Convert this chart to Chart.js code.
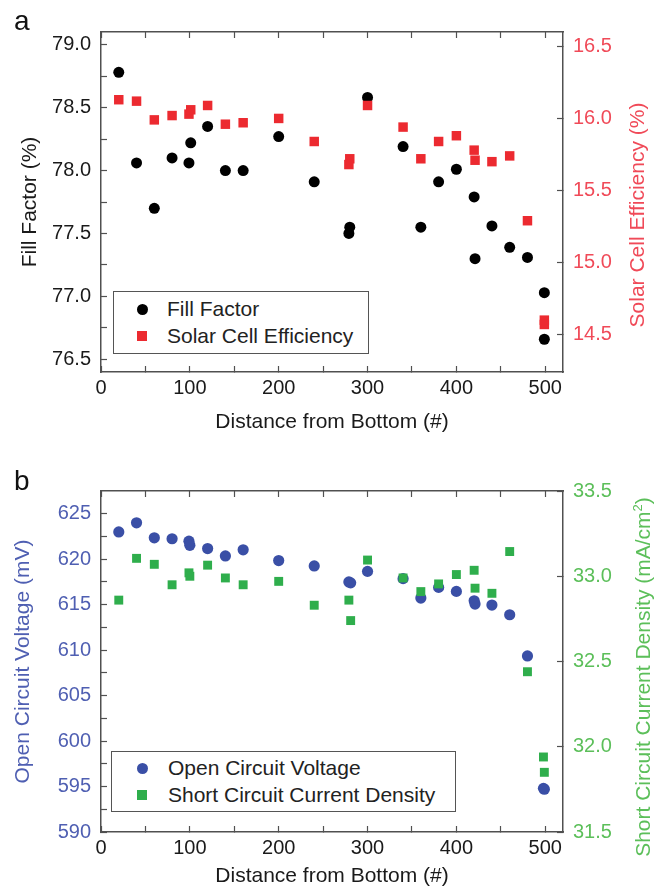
<!DOCTYPE html>
<html>
<head>
<meta charset="utf-8">
<title>Fill factor, efficiency, Voc and Jsc vs distance</title>
<script src="https://cdn.jsdelivr.net/npm/chart.js@4.4.1/dist/chart.umd.min.js"></script>
<style>
  body { margin: 0; background: #fff; font-family: 'Liberation Sans', Arial, sans-serif; }
  #page { position: relative; width: 660px; height: 889px; overflow: hidden; }
  .panel { position: absolute; left: 0; }
  .tag { position: absolute; left: 14px; font-size: 28px; line-height: 28px; color: #111; }
  .side-title { position: absolute; white-space: nowrap; font-size: 21px; line-height: 24px;
                transform: translate(-50%, -50%) rotate(-90deg); }
  .side-title sup { font-size: 13px; }
  .legend { position: absolute; box-sizing: border-box; border: 1.5px solid #555; background: #fff;
            font-size: 21px; color: #222; }
  .legend .item { position: relative; height: 26.7px; line-height: 26.7px; white-space: nowrap; }
  .legend .mark { position: absolute; top: 50%; }
  .legend .mark.circle { width: 11px; height: 11px; margin-top: -5.5px; border-radius: 50%; }
  .legend .mark.rect { width: 9.5px; height: 9.5px; margin-top: -4.75px; }
</style>
</head>
<body>
<div id="page">
  <canvas id="chartA" class="panel" width="660" height="445" style="top:0"></canvas>
  <canvas id="chartB" class="panel" width="660" height="444" style="top:445px"></canvas>
  <div class="tag" style="top:7px">a</div>
  <div class="tag" style="top:467px">b</div>
  <div class="side-title" style="left:637px; top:215px; color:#f04a58">Solar Cell Efficiency (%)</div>
  <div class="side-title" style="left:640px; top:677px; color:#5cbf5a">Short Circuit Current Density (mA/cm<sup>2</sup>)</div>
  <div id="legendA" class="legend" style="left:113px; top:291px; width:256px; height:63px; padding-top:4px"></div>
  <div id="legendB" class="legend" style="left:111px; top:751px; width:345px; height:61px; padding-top:3px"></div>
</div>
<script>
// panel a
const distanceA = [20, 40, 60, 80, 99, 101, 120, 140, 160, 200, 240, 280, 279, 300, 340, 360, 380, 400, 420, 421, 440, 460, 480, 499, 499];
const fillFactor = [78.78, 78.06, 77.70, 78.10, 78.06, 78.22, 78.35, 78.00, 78.00, 78.27, 77.91, 77.55, 77.50, 78.58,
                    78.19, 77.55, 77.91, 78.01, 77.79, 77.30, 77.56, 77.39, 77.31, 77.03, 76.66];
const efficiency = [16.13, 16.12, 15.99, 16.02, 16.03, 16.06, 16.09, 15.96, 15.97, 16.00, 15.84, 15.72, 15.68, 16.09,
                    15.94, 15.72, 15.84, 15.88, 15.78, 15.71, 15.70, 15.74, 15.29, 14.60, 14.57];

// panel b
const distanceB = [20, 40, 60, 80, 99, 100, 120, 140, 160, 200, 240, 279, 281, 300, 340, 360, 380, 400, 420, 421, 440, 460, 480, 498, 499];
const voltage = [623.0, 624.0, 622.35, 622.25, 621.98, 621.53, 621.17, 620.36, 621.03, 619.85, 619.26, 617.5, 617.4, 618.66,
                 617.86, 615.73, 616.9, 616.46, 615.43, 615.07, 614.96, 613.89, 609.36, 594.8, 594.7];
const currentDensity = [32.86, 33.105, 33.07, 32.95, 33.02, 33.0, 33.065, 32.99, 32.95, 32.97, 32.83, 32.86, 32.74, 33.095,
                        32.99, 32.91, 32.955, 33.01, 33.035, 32.93, 32.90, 33.145, 32.44, 31.94, 31.85];

// tick labels
const distanceTicks = [0, 100, 200, 300, 400, 500];
const fillFactorTicks = [76.5, 77.0, 77.5, 78.0, 78.5, 79.0];
const efficiencyTicks = [14.5, 15.0, 15.5, 16.0, 16.5];
const voltageTicks = [590, 595, 600, 605, 610, 615, 620, 625];
const currentTicks = [31.5, 32.0, 32.5, 33.0, 33.5];

const AXIS_GRAY = '#505050';
Chart.defaults.font.family = "'Liberation Sans', Arial, sans-serif";
Chart.defaults.font.size = 20;

function withMinor(major) {
  const out = [];
  major.forEach((v, i) => {
    out.push(v);
    if (i < major.length - 1) out.push((v + major[i + 1]) / 2);
  });
  return out;
}

function frameAxis({ position, size, min, max, values, major, digits, color, pad }) {
  const vertical = position === 'left' || position === 'right';
  return {
    type: 'linear',
    position,
    min,
    max,
    afterBuildTicks: s => { s.ticks = values.map(v => ({ value: v })); },
    afterFit: s => { if (vertical) s.width = size; else s.height = size; },
    ticks: {
      autoSkip: false,
      maxRotation: 0,
      padding: pad,
      color: color,
      font: { size: 20 },
      callback: v => (major && major.includes(v)) ? v.toFixed(digits) : '',
    },
    grid: { drawOnChartArea: false, tickLength: -6, tickColor: AXIS_GRAY, tickWidth: 1.2 },
    border: { color: AXIS_GRAY, width: 1.5 },
  };
}

function points(xs, ys) {
  return xs.map((x, i) => ({ x, y: ys[i] }));
}

function renderLegend(chart, el, markLeft, textLeft) {
  el.innerHTML = chart.data.datasets.map(ds => `
    <div class="item" style="padding-left:${textLeft}px">
      <span class="mark ${ds.pointStyle}" style="left:${markLeft}px; background:${ds.backgroundColor}"></span>${ds.label}
    </div>`).join('');
}

function createChartA() {
  const ctx = document.getElementById('chartA').getContext('2d');
  return new Chart(ctx, {
    type: 'scatter',
    data: {
      datasets: [{
        label: 'Fill Factor',
        data: points(distanceA, fillFactor),
        yAxisID: 'y',
        pointStyle: 'circle',
        pointRadius: 5.5,
        backgroundColor: '#000000',
        borderWidth: 0,
        order: 1,
      }, {
        label: 'Solar Cell Efficiency',
        data: points(distanceA, efficiency),
        yAxisID: 'y2',
        pointStyle: 'rect',
        pointRadius: 6.7,
        backgroundColor: '#ec2a30',
        borderWidth: 0,
        order: 0,
      }]
    },
    options: {
      responsive: false,
      animation: false,
      layout: { padding: 0 },
      plugins: { legend: { display: false }, tooltip: { enabled: false } },
      scales: {
        x: {
          ...frameAxis({ position: 'bottom', size: 73, min: 0, max: 520, values: withMinor(distanceTicks),
                         major: distanceTicks, digits: 0, color: '#1a1a1a', pad: 10 }),
          title: { display: true, text: 'Distance from Bottom (#)', color: '#1a1a1a', font: { size: 21 },
                   padding: { top: 0, bottom: 10 } },
        },
        x2: frameAxis({ position: 'top', size: 32, min: 0, max: 520, values: withMinor(distanceTicks), pad: 0 }),
        y: {
          ...frameAxis({ position: 'left', size: 101, min: 76.4, max: 79.1, values: withMinor(fillFactorTicks),
                         major: fillFactorTicks, digits: 1, color: '#1a1a1a', pad: 16 }),
          title: { display: true, text: 'Fill Factor (%)', color: '#1a1a1a', font: { size: 21 },
                   padding: { top: 18, bottom: 0 } },
        },
        y2: frameAxis({ position: 'right', size: 97, min: 14.24, max: 16.6, values: efficiencyTicks,
                        major: efficiencyTicks, digits: 1, color: '#f04a58', pad: 16 }),
      }
    }
  });
}

function createChartB() {
  const ctx = document.getElementById('chartB').getContext('2d');
  return new Chart(ctx, {
    type: 'scatter',
    data: {
      datasets: [{
        label: 'Open Circuit Voltage',
        data: points(distanceB, voltage),
        yAxisID: 'y',
        pointStyle: 'circle',
        pointRadius: 5.6,
        backgroundColor: '#3a4fa6',
        borderWidth: 0,
        order: 1,
      }, {
        label: 'Short Circuit Current Density',
        data: points(distanceB, currentDensity),
        yAxisID: 'y2',
        pointStyle: 'rect',
        pointRadius: 6.3,
        backgroundColor: '#2fae4c',
        borderWidth: 0,
        order: 0,
      }]
    },
    options: {
      responsive: false,
      animation: false,
      layout: { padding: 0 },
      plugins: { legend: { display: false }, tooltip: { enabled: false } },
      scales: {
        x: {
          ...frameAxis({ position: 'bottom', size: 57, min: 0, max: 520, values: withMinor(distanceTicks),
                         major: distanceTicks, digits: 0, color: '#1a1a1a', pad: 10 }),
          title: { display: true, text: 'Distance from Bottom (#)', color: '#1a1a1a', font: { size: 21 },
                   padding: { top: 0, bottom: 0 } },
        },
        x2: frameAxis({ position: 'top', size: 46, min: 0, max: 520, values: withMinor(distanceTicks), pad: 0 }),
        y: {
          ...frameAxis({ position: 'left', size: 101, min: 590, max: 627.5, values: withMinor(voltageTicks),
                         major: voltageTicks, digits: 0, color: '#4f5fb2', pad: 16 }),
          title: { display: true, text: 'Open Circuit Voltage (mV)', color: '#4f5fb2', font: { size: 21 },
                   padding: { top: 11, bottom: 0 } },
        },
        y2: frameAxis({ position: 'right', size: 97, min: 31.5, max: 33.5, values: currentTicks,
                        major: currentTicks, digits: 1, color: '#5cbf5a', pad: 16 }),
      }
    }
  });
}

window.addEventListener('DOMContentLoaded', () => {
  const chartA = createChartA();
  const chartB = createChartB();
  renderLegend(chartA, document.getElementById('legendA'), 23, 53);
  renderLegend(chartB, document.getElementById('legendB'), 25, 56);
});
</script>
</body>
</html>
